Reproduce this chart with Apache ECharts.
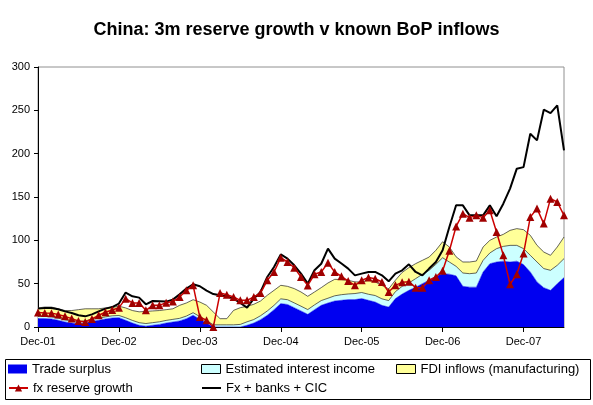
<!DOCTYPE html>
<html>
<head>
<meta charset="utf-8">
<script src="https://cdn.jsdelivr.net/npm/echarts@6/dist/echarts.min.js"></script>
<style>
html,body{margin:0;padding:0;background:#fff;}
#chart{width:593px;height:405px;}
</style>
</head>
<body>
<div id="chart"></div>
<script>
const months = ['Dec-01',
'Jan-02','Feb-02','Mar-02','Apr-02','May-02','Jun-02','Jul-02','Aug-02','Sep-02','Oct-02','Nov-02','Dec-02',
'Jan-03','Feb-03','Mar-03','Apr-03','May-03','Jun-03','Jul-03','Aug-03','Sep-03','Oct-03','Nov-03','Dec-03',
'Jan-04','Feb-04','Mar-04','Apr-04','May-04','Jun-04','Jul-04','Aug-04','Sep-04','Oct-04','Nov-04','Dec-04',
'Jan-05','Feb-05','Mar-05','Apr-05','May-05','Jun-05','Jul-05','Aug-05','Sep-05','Oct-05','Nov-05','Dec-05',
'Jan-06','Feb-06','Mar-06','Apr-06','May-06','Jun-06','Jul-06','Aug-06','Sep-06','Oct-06','Nov-06','Dec-06',
'Jan-07','Feb-07','Mar-07','Apr-07','May-07','Jun-07','Jul-07','Aug-07','Sep-07','Oct-07','Nov-07','Dec-07',
'Jan-08','Feb-08','Mar-08','Apr-08','May-08','Jun-08'];

const tradeSurplus = [9.7,9.7,9.3,7.7,5.8,4.6,3.8,4.6,6.5,7.7,9.2,10.4,
10.8,7.7,4.6,2,1,2,3,4.6,5.8,7,9.6,13.5,
9,4.5,0,0,0,0,0,2,4.6,8.5,13.5,20,
27,26,22.3,18.5,14.6,20,25,27.7,30,30.8,31.6,31.6,
32.8,30.8,28.8,25,23,32.8,38,42.3,45.8,50,54,58.5,
61.5,61,59,47,46,46,63.5,73,75,76,75,76,
72,63.5,52,45.4,42.3,50,57];

const interestIncome = [2.5,2.5,2.5,2.5,2.5,2.5,2.5,2.5,2.5,2.5,2.5,2.5,
2.5,3,3,3,3,3,3,3,3,3,3,3,
3,3,2.5,2.5,2.5,2.5,3,4,4,4.5,5,5,
5.5,5.5,5.5,5.5,5.5,5.5,5.5,5.5,6,6.5,6.5,7,
7,7,7.5,7.5,7.5,8,8.9,8.5,10,10.8,11.4,13.8,
18.4,14,11,15.3,15.5,16.3,13.4,12.4,15.4,17,19.2,18.2,
18.4,19.2,23,22,23.1,21.2,21.9];

const fdiInflows = [9.8,10.8,11.2,10.8,10.7,11.9,13.7,13.9,12,10.8,10.3,9.6,
10.7,11.3,11.4,12.5,14,13.5,13,12.4,12.2,15,15.1,15,
16.8,17.5,14.8,7.1,7.1,16.7,19.3,17.9,17.6,17,18.1,17.3,
15.6,15.4,16.5,16.4,15.3,14.9,14.9,17.6,19,17.4,15.8,13.4,
12.2,16.2,15.7,15.5,13.5,13.2,16.1,17.7,17.3,16.1,15.3,16.2,
18.5,17.3,11,12.7,13.5,13.8,15.4,14.6,13.4,13.9,17.3,19.3,
21.9,23.1,19.2,19.1,17.3,21.1,24.9];

const fxReserveGrowth = [16.6,16.2,16,14.3,12.3,9.7,7,5.8,9.2,13.5,17,19.6,
22.3,32.7,27.7,27.7,19.2,25,25,28.1,29.3,34.6,42.3,48.1,
11.5,7.7,0,39.2,37.3,34.7,30.8,30.8,34.7,39.2,53.9,63.5,
80,75,68.5,57.7,48,60.8,63.5,74,63.5,58.5,53,48.1,
53.9,57,55.8,51.9,40.4,48.1,51.5,52.3,45.4,45.4,53.9,57.7,
65,88,116,130.8,126.2,128.8,126.2,134.6,109.6,82.7,49.3,60.8,
84.7,126.9,136.6,119.3,148.1,144.2,128.8];

const fxBanksCic = [21.2,22,22,20.4,18,16.2,13.5,12.3,14.6,18,21.2,23,
27,39.7,35.4,33.9,26.2,30,29.7,29.3,31.6,37.7,44.3,49.3,
47,42,38,36.6,35.4,32.7,27.7,22.3,32.7,40.4,57.7,69.2,
83.8,78.9,71.2,61.6,50,65.4,73,90.4,78.9,73.2,67.4,59.6,
61.6,63.5,63.5,59.6,52.7,61.6,65.4,72.3,63.5,59.6,67.4,75,
88.5,115.4,140.4,140.4,128.8,128.8,128.8,140.4,127.7,142.3,159.7,182.7,
184.5,223,215.3,250.7,246.8,255.7,203.8];

const yTicks = [0, 50, 100, 150, 200, 250, 300];

const FONT = "'Liberation Sans', Arial, sans-serif";
const chart = echarts.init(document.getElementById('chart'), null, {renderer: 'canvas'});

function legendAt(left, top, name, extra) {
  return Object.assign({
    show: true, left: left, top: top, padding: 0, itemGap: 0,
    itemWidth: 19, itemHeight: 9, data: [name],
    textStyle: {fontSize: 13, color: '#000', fontFamily: FONT, lineHeight: 14}
  }, extra || {});
}

chart.setOption({
  animation: false,
  backgroundColor: '#fff',
  title: {
    text: 'China: 3m reserve growth v known BoP inflows',
    left: 'center', top: 16,
    textStyle: {fontSize: 18, fontWeight: 'bold', color: '#000', fontFamily: FONT}
  },
  grid: {
    left: 38, right: 29, top: 67, bottom: 78,
    show: true, borderColor: '#909090', borderWidth: 1, backgroundColor: '#fff'
  },
  legend: [
    legendAt(8, 362, 'Trade surplus', {icon: 'rect'}),
    legendAt(201, 362, 'Estimated interest income', {icon: 'rect', itemStyle: {borderColor: '#000', borderWidth: 1}}),
    legendAt(396, 362, 'FDI inflows (manufacturing)', {icon: 'rect', itemStyle: {borderColor: '#000', borderWidth: 1}}),
    legendAt(8, 381, 'fx reserve growth'),
    legendAt(201, 381, 'Fx + banks + CIC', {itemStyle: {opacity: 0}})
  ],
  graphic: [{
    type: 'rect', left: 3, top: 357, z: 100,
    shape: {width: 585, height: 40},
    style: {fill: 'none', stroke: '#000', lineWidth: 1}
  }],
  xAxis: {
    type: 'category', data: months, boundaryGap: false,
    axisLine: {lineStyle: {color: '#000', width: 1}},
    axisTick: {show: true, interval: 11, length: 5, lineStyle: {color: '#000'}},
    axisLabel: {interval: 11, margin: 9, fontSize: 11, color: '#000', fontFamily: FONT},
    splitLine: {show: false}
  },
  yAxis: {
    type: 'value', min: yTicks[0], max: yTicks[yTicks.length - 1], interval: 50,
    axisLine: {show: true, lineStyle: {color: '#000', width: 1}},
    axisTick: {show: true, length: 4, lineStyle: {color: '#000'}},
    axisLabel: {margin: 8, fontSize: 11, color: '#000', fontFamily: FONT},
    splitLine: {show: false}
  },
  series: [
    {
      name: 'Trade surplus', type: 'line', stack: 'bop', data: tradeSurplus,
      symbol: 'none', lineStyle: {width: 0.5, color: '#0000e6'},
      itemStyle: {color: '#0000f0'},
      areaStyle: {color: '#0000f0', opacity: 1}
    },
    {
      name: 'Estimated interest income', type: 'line', stack: 'bop', data: interestIncome,
      symbol: 'none', lineStyle: {width: 0.7, color: '#222'},
      itemStyle: {color: '#ccffff'},
      areaStyle: {color: '#ccffff', opacity: 1}
    },
    {
      name: 'FDI inflows (manufacturing)', type: 'line', stack: 'bop', data: fdiInflows,
      symbol: 'none', lineStyle: {width: 0.7, color: '#222'},
      itemStyle: {color: '#ffff99'},
      areaStyle: {color: '#ffff99', opacity: 1}
    },
    {
      name: 'Fx + banks + CIC', type: 'line', data: fxBanksCic,
      symbol: 'none', lineStyle: {width: 2, color: '#000'},
      itemStyle: {color: '#000'}
    },
    {
      name: 'fx reserve growth', type: 'line', data: fxReserveGrowth,
      symbol: 'triangle', symbolSize: 8, showAllSymbol: true,
      lineStyle: {width: 1.5, color: '#cc0000'},
      itemStyle: {color: '#a00000'}
    }
  ]
});
</script>
</body>
</html>
